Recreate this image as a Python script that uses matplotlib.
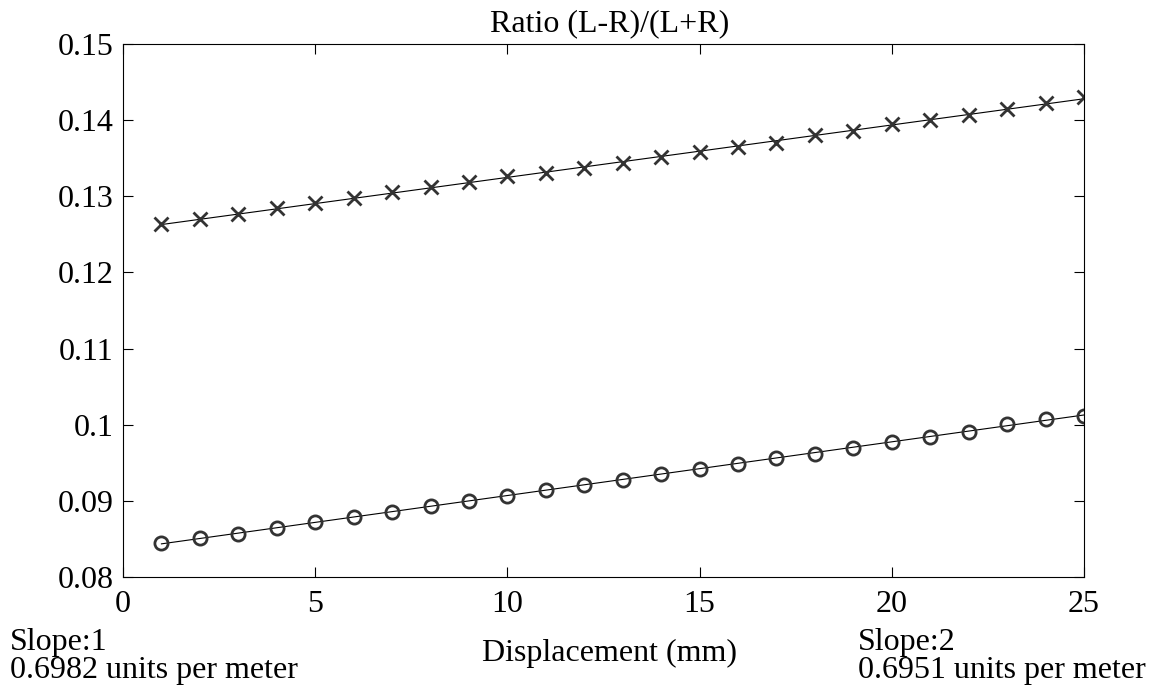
import matplotlib.pyplot as plt
import numpy as np

plt.rcParams['font.family'] = ['Liberation Serif', 'DejaVu Serif']

# displacement in mm and the two measured ratios
displacement = np.arange(1, 26)
ratio_cross = [0.1263, 0.1270, 0.1277, 0.1284, 0.1291, 0.1298, 0.1305, 0.1312,
               0.1319, 0.1326, 0.1330, 0.1337, 0.1344, 0.1351, 0.1358, 0.1365,
               0.1370, 0.1381, 0.1386, 0.1395, 0.1400, 0.1407, 0.1414, 0.1423,
               0.1431]
ratio_circle = [0.0844, 0.0851, 0.0857, 0.0865, 0.0872, 0.0879, 0.0886, 0.0893,
                0.0900, 0.0907, 0.0914, 0.0921, 0.0928, 0.0935, 0.0942, 0.0949,
                0.0956, 0.0962, 0.0970, 0.0977, 0.0984, 0.0991, 0.1001, 0.1008,
                0.1012]
slope_text = [("Slope:1", "0.6982 units per meter"), ("Slope:2", "0.6951 units per meter")]

W, H = 1151, 689
FS = 23

fig = plt.figure(figsize=(W / 100, H / 100), dpi=100)
ax = fig.add_axes([123 / W, 1 - 577 / H, (1084 - 123) / W, (577 - 44) / H])

for vals, mk in [(ratio_cross, 'x'), (ratio_circle, 'o')]:
    fit = np.polyfit(displacement, vals, 1)
    ax.plot(displacement, np.polyval(fit, displacement), color='black', lw=0.8)
    ax.plot(displacement, vals, linestyle='none', marker=mk, markersize=9.5,
            markerfacecolor='none', markeredgecolor='#333333', markeredgewidth=2)

ax.set_xlim(0, 25)
ax.set_ylim(0.08, 0.15)
ax.set_xticks([0, 5, 10, 15, 20, 25])
ax.set_yticks([0.08, 0.09, 0.1, 0.11, 0.12, 0.13, 0.14, 0.15])
ax.set_yticklabels(['0.08', '0.09', '0.1', '0.11', '0.12', '0.13', '0.14', '0.15'])
ax.tick_params(direction='in', length=7, width=0.8, top=True, right=True,
               labelsize=FS)
ax.tick_params(axis='y', pad=7)
ax.tick_params(axis='x', pad=9)
for s in ax.spines.values():
    s.set_linewidth(0.8)


def put(x, y, s):
    # place text by pixel position of its baseline
    fig.text(x / W, 1 - y / H, s, fontsize=FS, va='baseline', ha='left')


fig.text(610 / W, 1 - 31 / H, 'Ratio (L-R)/(L+R)', fontsize=FS, ha='center', va='baseline')
fig.text(610 / W, 1 - 661 / H, 'Displacement (mm)', fontsize=FS, ha='center', va='baseline')
for (first, second), x0 in zip(slope_text, [10, 858]):
    put(x0, 650, first)
    put(x0, 678, second)

fig.savefig('out.png', dpi=100)
